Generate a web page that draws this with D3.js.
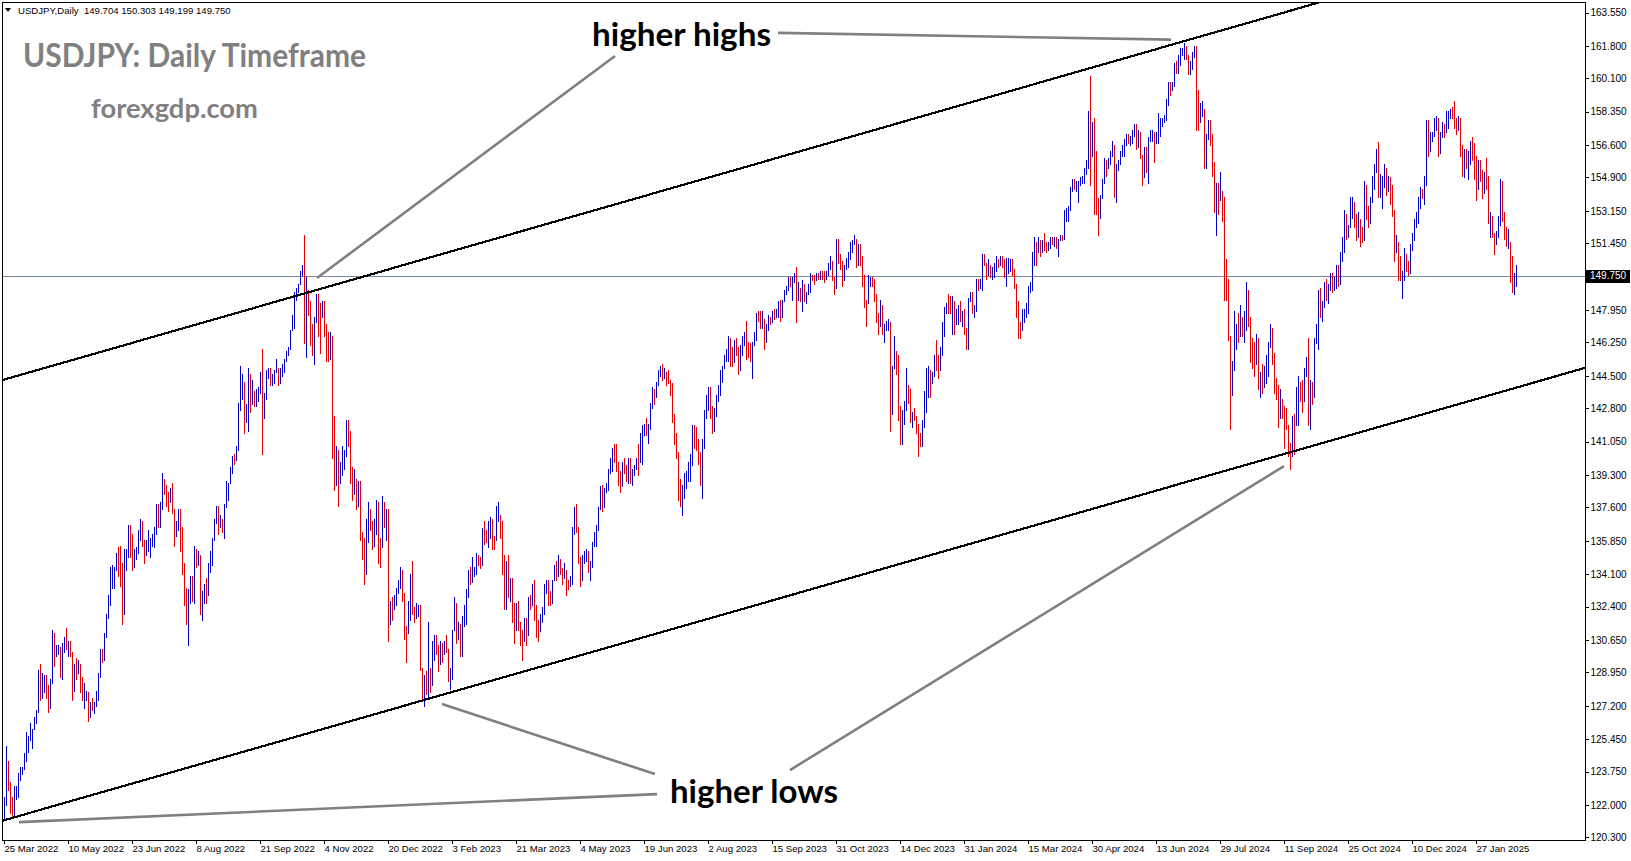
<!DOCTYPE html>
<html><head><meta charset="utf-8">
<script src="https://cdn.jsdelivr.net/npm/d3@7"></script>
<style>
body{margin:0;background:#fff;}
svg{display:block;}
</style>
</head><body>
<svg id="chart" width="1631" height="861"></svg>
<script>
// ---------- DATA ----------
const symbolTitle = "USDJPY,Daily  149.704 150.303 149.199 149.750";
const firstOpen = 121.8;
const highs = [
122.4,125.1,124.3,123.2,122.4,123.0,123.0,123.7,124.0,124.0,
124.7,125.8,125.6,126.3,126.0,126.6,127.0,129.1,129.4,128.9,
128.8,128.8,128.3,128.6,131.2,131.0,130.4,130.4,130.3,130.5,
130.8,131.3,130.6,130.6,130.0,129.4,129.7,129.6,129.4,128.7,
128.4,128.0,127.9,127.4,127.6,127.4,128.0,128.9,130.2,130.2,
131.0,132.0,133.0,134.5,134.6,134.5,135.2,135.5,135.6,134.7,
135.4,135.4,136.7,136.7,136.2,135.4,135.5,136.4,137.0,136.9,
135.9,135.9,136.4,136.0,136.2,136.6,137.8,137.8,137.9,139.4,
139.1,138.8,138.4,138.6,138.9,137.5,136.9,137.5,137.5,136.6,
134.7,133.4,133.3,134.0,134.0,135.6,135.4,135.3,135.1,133.2,
133.6,133.9,134.7,135.3,136.0,137.0,137.7,137.7,137.2,137.0,
137.8,139.0,138.9,139.7,140.3,140.4,140.8,143.1,145.0,144.6,
144.2,143.0,144.9,144.6,144.3,143.7,143.8,143.9,144.7,145.9,
143.6,144.8,144.9,144.9,144.6,144.8,145.4,144.9,144.9,145.1,
145.4,145.8,146.0,146.9,147.7,148.9,149.1,149.3,150.0,150.3,
151.9,149.7,149.0,148.4,147.2,147.6,148.8,148.8,148.3,148.4,
148.4,147.2,146.8,146.8,146.6,142.4,140.8,140.6,140.0,140.8,
140.6,142.2,142.2,141.6,139.7,139.6,139.1,139.0,139.0,136.3,
136.0,137.0,137.9,137.5,136.9,137.0,138.0,137.9,136.0,138.2,
137.9,137.5,137.5,132.7,132.9,133.0,133.4,133.8,134.5,134.3,
133.1,131.4,132.7,134.1,134.8,132.4,132.6,132.5,132.5,129.2,
128.8,129.0,131.6,129.2,130.6,130.9,130.9,130.4,130.6,130.5,
130.6,130.9,130.2,129.2,131.2,132.9,132.6,131.6,131.5,131.9,
132.5,133.3,134.3,134.5,135.0,134.5,135.2,135.1,135.0,136.5,
136.9,136.4,136.9,137.1,137.0,136.1,137.7,137.9,137.2,136.9,
135.1,134.8,135.1,133.9,133.9,132.6,132.6,132.7,131.6,131.2,
131.8,131.8,132.9,133.0,133.6,133.8,132.5,131.7,132.0,132.4,
133.6,133.8,133.8,133.2,133.8,134.6,134.8,135.1,134.9,134.4,
134.7,134.3,133.8,134.0,136.6,137.6,137.8,136.6,135.0,135.1,
135.3,135.4,135.3,134.8,135.8,136.3,136.7,137.6,138.7,138.8,
138.6,138.9,139.6,140.2,140.7,140.9,140.9,140.0,139.5,140.0,
140.2,139.8,140.2,140.2,139.6,139.8,140.2,140.9,141.5,141.9,
142.0,142.3,142.0,143.1,143.9,143.8,144.2,144.8,145.0,145.1,
144.9,144.7,144.8,144.3,144.1,142.5,141.5,140.5,139.1,138.8,
139.4,139.5,140.0,140.4,141.9,141.9,141.8,141.2,140.5,141.2,
142.7,143.5,143.9,143.9,142.9,142.8,143.5,144.0,144.8,145.0,
145.6,145.9,146.6,146.5,146.0,146.4,146.5,146.0,146.1,146.6,
146.8,147.4,146.3,146.2,146.3,146.8,147.8,147.9,147.9,147.9,
147.5,147.2,147.7,147.6,147.9,148.0,148.0,148.4,148.5,148.5,
149.0,149.2,149.7,149.7,149.7,149.9,150.2,149.4,149.1,149.5,
149.3,148.9,149.3,149.9,149.8,149.8,149.9,149.9,150.0,150.0,
150.0,150.0,150.4,150.8,150.5,149.7,151.7,151.7,150.9,150.5,
150.3,150.7,151.0,151.5,151.6,151.9,151.7,151.4,151.4,150.8,
149.8,148.5,149.8,149.7,149.7,149.6,148.8,147.8,148.5,148.2,
147.2,147.4,147.5,147.3,145.0,146.6,145.8,145.6,142.9,142.7,
143.2,144.9,144.0,143.8,142.6,142.8,142.4,142.0,141.5,142.2,
143.7,144.9,145.0,144.8,144.7,145.6,146.4,145.6,146.0,147.3,
148.1,148.3,148.8,148.7,148.7,148.4,148.0,148.2,148.4,147.9,
148.0,147.0,148.6,148.9,148.9,148.2,149.6,149.6,149.6,150.9,
150.9,150.4,150.6,150.3,150.2,150.4,150.8,150.6,150.8,150.8,
150.6,150.7,150.7,150.6,150.6,150.1,149.3,148.4,147.3,148.0,
148.0,148.3,149.2,149.4,151.0,151.8,151.5,151.8,151.6,151.6,
152.0,151.5,151.5,151.8,151.8,151.8,151.8,151.7,151.9,151.9,
153.2,153.3,153.4,154.4,154.8,154.8,154.7,154.7,154.9,155.0,
155.4,155.8,158.4,160.2,157.8,158.0,156.3,153.8,154.0,154.8,
155.9,155.8,155.9,156.3,156.8,156.6,155.6,155.8,156.3,156.6,
156.9,157.2,157.2,157.1,157.4,157.7,157.7,157.4,157.3,156.1,
156.5,156.5,157.0,157.4,157.4,157.3,157.3,158.3,158.0,158.0,
158.2,159.0,159.9,159.9,159.9,160.9,161.0,161.3,161.7,161.7,
161.95,161.8,161.3,161.0,161.5,161.8,161.8,159.5,158.8,158.9,
158.5,157.2,157.9,157.9,157.2,155.7,154.6,154.6,155.2,154.2,
153.9,150.6,149.6,146.6,145.3,147.9,147.2,147.8,148.2,147.6,
147.9,149.4,149.0,147.6,146.5,146.3,146.7,146.5,144.7,145.1,
145.0,145.6,146.3,147.2,147.0,145.7,144.4,144.0,143.8,143.3,
142.9,142.8,141.9,141.0,142.4,142.5,143.9,144.5,144.2,144.3,
144.9,145.5,146.5,144.3,144.2,146.5,147.2,149.0,149.1,148.4,
149.4,149.6,149.3,149.9,149.9,149.7,150.3,150.3,151.0,151.8,
153.2,153.0,152.4,153.9,153.9,153.6,153.0,153.1,152.7,152.3,
154.7,154.5,153.4,153.9,155.0,155.6,156.4,156.75,155.1,155.0,
155.6,155.4,155.0,154.9,154.5,153.2,151.9,151.5,150.8,150.0,
151.2,150.9,150.5,151.4,152.0,152.7,153.1,153.9,154.4,154.3,
155.0,157.9,157.9,157.3,157.3,158.0,158.1,158.0,157.3,157.8,
157.7,158.4,158.4,158.5,158.6,158.9,158.0,158.1,158.0,156.6,
156.4,156.4,156.3,156.8,157.0,156.7,156.0,155.8,155.8,155.3,
155.2,155.9,155.0,153.1,152.9,152.0,152.1,152.9,154.8,154.7,
153.1,152.3,152.2,151.5,150.8,149.9,150.303
];
const lows = [
121.3,122.0,122.8,121.6,121.3,121.5,122.3,122.4,123.3,123.6,
123.9,124.3,124.8,125.4,125.0,126.0,126.3,126.9,127.5,127.6,
127.9,127.6,126.9,127.1,128.4,129.3,129.8,129.9,128.7,128.6,
130.0,130.2,129.8,129.8,127.5,128.0,128.6,128.9,127.9,127.5,
127.1,127.5,126.4,126.6,127.0,126.8,127.2,127.5,128.7,129.5,
129.6,130.8,131.8,132.5,133.4,133.4,134.3,134.0,133.5,131.5,
132.0,134.3,135.0,135.0,134.3,134.5,134.9,135.2,135.9,135.6,
134.7,135.1,135.3,135.0,135.6,135.5,136.2,136.6,136.6,137.5,
138.3,137.7,137.4,137.9,137.3,135.6,136.1,136.4,135.3,134.1,
132.5,131.5,130.4,132.6,132.7,132.6,134.5,134.6,132.0,131.7,
132.6,132.6,133.0,134.2,134.6,135.9,136.8,136.2,136.6,136.3,
136.0,137.6,138.0,138.9,139.4,139.9,140.1,140.6,142.7,143.3,
141.5,142.1,141.6,142.6,143.0,142.9,142.9,143.2,143.6,140.4,
142.3,143.3,144.4,144.0,144.0,144.1,144.7,144.0,144.1,144.5,
144.7,145.3,145.6,145.9,146.9,147.0,148.5,148.9,149.3,149.8,
146.2,145.5,147.7,146.1,145.6,145.1,147.3,146.6,145.7,147.6,
146.6,145.3,145.3,145.4,140.2,138.5,138.8,137.7,138.9,139.3,
139.6,140.3,140.8,138.9,138.0,138.3,137.5,137.7,135.9,134.9,
133.6,134.1,135.8,136.4,135.4,135.6,136.2,134.7,134.5,135.5,
136.6,135.9,130.6,131.5,131.7,132.3,132.5,133.1,133.4,132.7,
130.7,129.5,131.0,131.7,132.0,131.6,131.8,131.9,129.1,127.5,
127.2,127.8,127.6,127.9,128.3,129.6,129.9,129.0,129.4,129.5,
129.9,130.0,128.5,128.1,128.6,131.2,130.5,130.7,129.8,129.8,
131.4,131.5,132.9,133.6,133.7,134.0,134.1,134.6,134.4,134.6,
135.7,135.8,135.5,136.0,135.4,135.4,135.9,136.9,136.0,134.1,
132.3,132.3,132.9,132.7,131.6,130.5,131.2,131.2,130.4,129.6,
130.6,130.4,130.9,132.3,132.5,131.7,130.8,130.6,131.1,131.6,
132.0,133.1,132.5,132.5,132.6,133.8,133.8,134.0,134.1,133.6,
133.9,133.0,133.3,133.5,133.6,136.2,136.3,134.7,133.5,133.8,
134.7,134.8,134.2,133.8,134.5,135.6,135.6,136.4,137.5,137.4,
137.6,138.4,138.5,139.4,139.5,140.0,139.5,138.8,138.4,138.7,
139.4,139.0,138.9,138.9,138.8,139.3,139.6,139.3,140.0,139.9,
141.4,141.4,141.0,141.7,142.8,143.0,143.4,144.0,144.5,144.3,
144.4,144.0,144.1,143.5,142.1,140.9,140.2,138.0,137.7,137.2,
138.1,138.6,139.0,139.0,139.8,140.7,140.6,139.9,138.8,138.1,
140.7,142.3,142.7,142.3,141.5,141.6,142.4,143.2,143.5,144.2,
144.9,145.3,145.3,145.0,145.0,145.2,145.6,144.6,144.8,145.6,
146.1,145.4,145.5,145.3,144.4,146.1,146.4,147.4,147.0,147.0,
145.9,146.3,146.9,147.2,147.3,147.5,147.6,147.6,147.4,147.6,
148.4,148.8,149.0,149.2,148.5,149.4,147.3,148.5,148.4,147.9,
148.4,148.3,148.8,148.9,149.5,149.3,149.5,149.6,149.6,149.6,
149.4,149.6,149.8,150.1,149.5,148.8,149.1,150.4,150.1,149.2,
149.5,150.1,150.2,150.6,151.0,151.4,150.2,150.3,150.3,149.2,
148.1,147.1,148.3,149.2,149.2,148.4,147.3,146.7,147.1,146.7,
146.3,146.9,146.9,141.6,142.5,144.9,144.6,142.2,140.9,140.9,
142.0,142.7,143.1,142.1,141.8,142.2,141.5,140.3,140.8,140.8,
141.8,142.6,143.4,143.4,144.1,144.5,144.8,144.4,144.8,145.6,
146.6,147.8,147.8,147.8,146.7,146.7,147.2,147.2,147.4,147.1,
146.7,145.9,145.9,148.4,147.8,147.6,147.9,149.0,149.1,149.0,
150.3,149.6,149.8,149.7,149.6,149.7,150.0,150.2,150.3,150.2,
149.7,149.2,149.9,150.0,149.8,149.1,147.6,146.5,146.5,146.9,
147.3,147.6,147.8,148.9,149.0,150.3,150.3,151.0,150.8,151.0,
151.1,151.0,151.1,151.2,151.4,151.3,151.2,150.8,151.6,151.6,
151.7,152.6,152.6,153.2,154.2,154.3,154.2,153.6,154.5,154.6,
154.6,155.1,155.4,154.5,156.0,153.0,153.0,151.9,152.8,153.8,
154.6,155.0,155.4,155.6,156.0,153.9,153.6,155.3,155.6,156.0,
156.0,156.6,156.7,156.6,156.7,157.1,156.4,156.5,155.9,154.5,
154.9,155.2,154.6,156.8,156.8,155.7,156.7,156.7,157.1,157.6,
157.8,157.9,158.7,159.2,159.5,159.7,160.4,160.4,160.8,161.3,
161.1,161.1,160.3,160.3,160.6,161.2,157.4,157.4,157.8,158.1,
155.4,155.4,156.9,156.6,155.0,153.1,151.9,153.0,153.7,152.6,
148.5,148.5,146.4,141.7,143.5,144.8,145.9,146.3,146.6,146.6,
146.3,146.9,147.1,145.2,144.9,144.5,145.1,143.8,143.4,143.6,
143.9,144.1,144.5,146.0,145.1,143.6,143.3,141.8,142.3,142.3,
140.7,141.7,140.3,139.6,140.3,140.4,141.9,141.9,143.2,142.6,
143.2,144.5,141.9,141.7,143.0,143.4,146.2,145.9,147.6,147.4,
148.1,148.5,148.3,149.0,148.9,149.0,149.1,149.2,149.3,150.5,
151.0,151.7,151.8,152.3,152.8,152.3,151.6,151.8,151.3,151.5,
151.6,152.7,152.3,152.5,153.6,154.3,155.2,153.9,153.9,153.3,
154.4,154.0,154.2,153.5,152.9,150.5,151.0,149.5,149.5,148.6,
149.5,150.0,149.8,149.9,151.1,151.6,152.3,152.5,153.3,153.8,
153.5,154.5,156.0,156.3,156.8,157.1,157.4,156.0,156.2,157.0,
157.0,157.3,157.5,158.0,158.0,157.5,157.2,157.4,156.0,155.0,
154.9,155.4,154.8,155.6,155.8,154.8,153.7,154.3,154.7,153.8,
154.1,154.3,152.5,151.8,151.8,150.9,151.4,151.8,152.4,152.6,
151.7,151.3,151.2,149.4,148.9,148.8,149.199
];
const closes = [
122.0,123.8,122.8,121.8,121.7,122.5,122.8,123.6,123.8,124.0,
124.3,125.4,125.4,125.5,125.9,126.4,126.9,128.9,127.9,128.4,
128.5,128.1,127.2,128.4,130.9,129.8,130.1,130.2,129.1,130.2,
130.6,130.3,130.5,129.9,128.3,129.3,129.2,129.4,128.2,127.8,
127.9,127.9,126.9,127.3,127.1,127.1,127.6,128.7,130.0,129.9,
130.9,131.9,132.6,134.2,134.3,134.4,134.5,134.4,134.2,132.2,
135.0,135.1,136.6,136.2,134.9,135.2,135.4,136.1,136.6,135.7,
135.2,135.7,135.8,135.9,136.0,136.1,137.4,136.9,137.5,138.9,
138.6,138.2,138.0,138.3,137.4,136.1,136.7,137.0,136.6,134.3,
133.3,131.6,133.1,133.9,132.9,135.0,134.9,135.1,132.9,133.0,
133.4,133.3,134.2,135.1,135.9,136.9,137.5,136.8,137.0,136.5,
137.6,138.7,138.8,139.6,140.2,140.1,140.6,142.8,144.0,144.1,
142.5,142.8,144.6,143.2,143.6,143.0,143.2,143.7,144.1,142.3,
143.3,144.7,144.8,144.2,144.4,144.7,144.8,144.1,144.6,145.0,
145.3,145.6,145.9,146.8,147.2,148.7,149.0,149.2,149.9,150.1,
147.7,148.9,148.1,146.4,146.3,147.5,148.7,148.2,147.9,148.2,
146.7,146.6,145.6,146.4,141.0,138.8,140.0,139.3,139.5,140.2,
140.4,142.0,141.2,139.5,138.6,139.2,138.0,138.1,136.1,135.0,
134.3,136.7,137.0,136.7,136.1,136.6,137.7,135.6,135.5,137.7,
136.7,136.9,131.8,132.4,132.3,132.8,133.3,133.5,134.4,133.0,
131.1,131.0,132.5,133.4,132.1,131.9,132.2,132.4,129.2,127.9,
128.5,128.2,128.9,128.4,129.6,130.7,130.2,129.2,130.2,129.9,
130.4,130.1,128.6,128.7,131.1,132.6,131.1,131.4,130.7,131.4,
132.4,133.2,134.1,134.0,134.2,134.3,134.9,134.8,134.7,136.4,
136.2,136.1,136.2,136.8,135.9,135.8,137.2,137.3,136.1,135.0,
133.2,134.3,133.4,133.8,131.8,131.3,132.5,131.5,130.9,130.7,
131.6,130.9,132.8,132.7,132.8,132.4,131.5,131.3,131.8,132.2,
133.5,133.6,133.0,132.6,133.7,134.5,134.1,134.7,134.2,134.1,
134.3,133.7,133.6,133.9,136.3,137.5,136.6,134.9,134.2,134.8,
135.1,135.2,134.4,134.6,135.7,136.1,136.4,137.5,138.6,137.9,
138.5,138.6,139.5,139.9,140.6,140.4,139.8,139.3,138.8,139.9,
139.6,139.2,140.1,139.0,139.4,139.6,140.1,140.0,140.3,141.8,
141.9,141.5,141.9,143.0,143.7,143.5,144.0,144.5,144.8,144.4,
144.7,144.6,144.2,144.1,142.2,141.3,140.4,138.5,138.1,138.7,
139.0,139.2,139.6,140.1,141.7,141.5,140.9,140.3,139.4,141.1,
142.3,143.3,143.4,142.6,141.8,142.5,143.4,143.8,144.7,144.9,
145.5,145.6,146.4,145.8,145.4,146.2,145.9,144.8,146.0,146.4,
146.5,145.9,145.6,145.5,146.1,146.5,147.7,147.6,147.3,147.8,
146.6,147.1,147.5,147.4,147.8,147.6,147.9,148.3,147.6,148.4,
148.9,149.1,149.6,149.3,149.4,149.8,149.0,149.1,148.5,149.3,
148.5,148.7,149.1,149.8,149.6,149.5,149.8,149.7,149.9,149.8,
149.7,149.9,150.2,150.4,149.6,149.1,151.6,150.9,150.4,149.4,
150.1,150.4,150.9,151.3,151.5,151.7,150.4,151.3,150.7,149.6,
148.4,148.3,149.5,149.6,149.4,148.6,147.4,147.2,148.2,146.8,
147.1,147.2,147.3,144.1,144.9,145.6,145.4,142.9,141.9,142.2,
142.8,143.8,143.5,142.3,142.4,142.3,141.8,141.4,141.0,142.0,
143.3,144.6,144.7,144.2,144.5,145.5,145.3,144.9,145.8,147.2,
148.0,148.2,148.1,148.0,148.3,147.5,147.7,148.1,147.5,147.6,
146.9,146.4,148.4,148.7,147.9,148.1,149.3,149.2,149.4,150.7,
150.6,149.8,150.2,150.0,150.1,150.3,150.5,150.4,150.7,150.5,
149.9,150.0,150.1,150.5,150.0,149.3,148.1,147.1,146.9,147.7,
147.8,148.2,149.0,149.1,150.8,151.3,151.1,151.4,151.3,151.5,
151.3,151.2,151.4,151.6,151.5,151.6,151.3,151.6,151.8,151.7,
153.1,153.2,153.3,154.2,154.7,154.4,154.5,154.6,154.8,154.9,
155.3,155.6,158.3,156.3,157.6,155.6,153.4,152.9,153.9,154.7,
155.6,155.5,155.8,156.2,156.4,154.9,155.4,155.7,156.2,156.3,
156.8,157.0,156.9,156.9,157.2,157.6,156.8,157.3,156.1,154.9,
156.1,155.6,156.8,157.0,157.2,156.7,157.0,157.4,157.7,157.9,
158.1,158.9,159.8,159.7,159.8,160.8,160.7,160.9,161.5,161.6,
161.7,161.3,160.8,160.9,161.4,161.6,158.9,157.9,158.1,158.4,
156.2,157.1,157.4,157.0,155.6,153.9,154.0,153.8,154.0,152.8,
150.0,149.4,146.6,144.2,144.3,146.8,147.1,146.6,147.2,146.8,
147.3,149.3,147.6,146.0,145.3,145.2,146.3,144.4,144.5,143.9,
144.6,144.9,146.2,146.9,145.5,143.7,143.4,142.3,143.1,142.5,
142.4,141.8,140.8,140.6,142.3,142.2,142.6,143.9,143.6,143.2,
144.8,144.9,142.2,143.6,143.5,146.4,146.9,148.7,148.2,148.3,
149.3,148.6,149.1,149.8,149.2,149.3,150.0,149.5,150.9,151.1,
152.7,151.8,152.3,153.3,153.4,152.9,152.0,152.9,152.3,151.6,
154.6,152.9,152.6,153.7,154.6,155.4,156.3,154.3,154.6,154.7,
155.4,154.5,154.7,154.2,153.1,151.1,151.5,149.8,149.6,149.7,
150.6,150.1,150.0,151.2,151.9,152.5,152.6,153.6,154.1,153.9,
154.7,157.4,156.4,156.9,157.1,157.8,157.9,156.8,157.2,157.5,
157.3,157.6,158.0,158.3,158.1,157.7,157.5,158.0,156.5,155.2,
156.3,155.6,155.7,156.5,156.0,155.9,154.5,155.5,155.2,154.2,
155.1,154.7,152.6,152.7,151.9,151.4,152.0,152.4,154.4,153.0,
152.1,151.5,151.6,149.7,149.2,149.7,149.750
];
const lastPrice = 149.750;
const priceTicks = [163.55,161.80,160.10,158.35,156.60,154.90,153.15,151.45,147.95,146.25,144.50,142.80,141.05,139.30,137.60,135.85,134.10,132.40,130.65,128.95,127.20,125.45,123.75,122.00,120.30];
const dateTickBars = [0,32,64,96,128,160,192,224,256,288,320,352,384,416,448,480,512,544,576,608,640,672,704,736];
const dateTickLabels = ["25 Mar 2022","10 May 2022","23 Jun 2022","8 Aug 2022","21 Sep 2022","4 Nov 2022","20 Dec 2022","3 Feb 2023","21 Mar 2023","4 May 2023","19 Jun 2023","2 Aug 2023","15 Sep 2023","31 Oct 2023","14 Dec 2023","31 Jan 2024","15 Mar 2024","30 Apr 2024","13 Jun 2024","29 Jul 2024","11 Sep 2024","25 Oct 2024","10 Dec 2024","27 Jan 2025"];
// channel lines: [bar, price] anchors
const upperChannel = [[0,144.3],[650,163.85]];
const lowerChannel = [[0,121.2],[790,144.9]];
// annotation connectors: [[bar, price],[bar, price]]
const connectors = [
  [[387,162.48],[583.5,162.13]],
  [[305.5,161.27],[156.5,149.63]],
  [[325.5,123.62],[219,127.29]],
  [[326.5,122.57],[7.5,121.10]],
  [[393,123.83],[640,139.77]]
];
const annoLabels = [
  {text:"higher highs", bar:294, price:161.80, width:179},
  {text:"higher lows", bar:333, price:122.10, width:168}
];

// ---------- DRAW ----------
const svg = d3.select("#chart");
const plot = {left:2, top:2, right:1585, bottom:840};
const n = Math.min(highs.length, lows.length, closes.length);

const x = d3.scaleLinear().domain([0, 756]).range([4, 1516]);
const y = d3.scaleLinear().domain([120.30, 163.55]).range([837.4, 12.5]);

svg.append("rect").attr("width",1631).attr("height",861).attr("fill","#fff");

svg.append("defs").append("clipPath").attr("id","clip")
  .append("rect").attr("x",plot.left).attr("y",plot.top)
  .attr("width",plot.right-plot.left).attr("height",plot.bottom-plot.top);

const g = svg.append("g").attr("clip-path","url(#clip)");

// current price line
g.append("line").attr("x1",plot.left).attr("x2",plot.right)
  .attr("y1",Math.round(y(lastPrice))+0.5).attr("y2",Math.round(y(lastPrice))+0.5)
  .attr("stroke","#778899").attr("stroke-width",1);

// bars
const idx = d3.range(n);
g.append("g").selectAll("line").data(idx).join("line")
  .attr("x1",i=>Math.round(x(i))+0.5).attr("x2",i=>Math.round(x(i))+0.5)
  .attr("y1",i=>Math.round(y(highs[i]))).attr("y2",i=>Math.round(y(lows[i]))+1)
  .attr("stroke",i=>{const o = i===0?firstOpen:closes[i-1]; return closes[i]>=o?"#0000c4":"#e60000";})
  .attr("stroke-width",1).attr("shape-rendering","crispEdges");

// channel lines
function chan(a){
  const slope=(a[1][1]-a[0][1])/(a[1][0]-a[0][0]);
  const b0=-10, b1=820;
  return [[b0, a[0][1]+slope*(b0-a[0][0])],[b1, a[0][1]+slope*(b1-a[0][0])]];
}
[upperChannel, lowerChannel].forEach(c=>{
  const p=chan(c);
  g.append("line").attr("x1",x(p[0][0])).attr("y1",y(p[0][1]))
   .attr("x2",x(p[1][0])).attr("y2",y(p[1][1]))
   .attr("stroke","#000").attr("stroke-width",2.2).attr("shape-rendering","crispEdges");
});

// connectors
connectors.forEach(c=>{
  g.append("line").attr("x1",x(c[0][0])).attr("y1",y(c[0][1]))
   .attr("x2",x(c[1][0])).attr("y2",y(c[1][1]))
   .attr("stroke","#808080").attr("stroke-width",2.6);
});

// annotation text
annoLabels.forEach(a=>{
  g.append("text").attr("x",x(a.bar)).attr("y",y(a.price))
   .attr("font-family","Lato, 'Open Sans', sans-serif").attr("font-weight",700)
   .attr("font-size",33).attr("fill","#000")
   .attr("textLength",a.width).attr("lengthAdjust","spacingAndGlyphs")
   .text(a.text);
});

// watermark titles
svg.append("text").attr("x",23).attr("y",67)
  .attr("font-family","Lato, 'Open Sans', sans-serif").attr("font-weight",700)
  .attr("font-size",32).attr("fill","#808080")
  .attr("textLength",343).attr("lengthAdjust","spacingAndGlyphs")
  .text("USDJPY: Daily Timeframe");
svg.append("text").attr("x",91).attr("y",118)
  .attr("font-family","Lato, 'Open Sans', sans-serif").attr("font-weight",700)
  .attr("font-size",27).attr("fill","#808080")
  .attr("textLength",167).attr("lengthAdjust","spacingAndGlyphs")
  .text("forexgdp.com");

// symbol header
svg.append("path").attr("d","M5,8 L11,8 L8,12 Z").attr("fill","#000");
svg.append("text").attr("x",18).attr("y",14)
  .attr("font-family","'Liberation Sans', Arial, sans-serif").attr("font-size",9.6)
  .attr("fill","#000").attr("xml:space","preserve").style("white-space","pre")
  .text(symbolTitle);

// frame
svg.append("rect").attr("x",plot.left+0.5).attr("y",plot.top+0.5)
  .attr("width",plot.right-plot.left).attr("height",plot.bottom-plot.top)
  .attr("fill","none").attr("stroke","#000").attr("stroke-width",1);

// right price axis
const yAxis = d3.axisRight(y).tickValues(priceTicks).tickSize(3).tickSizeOuter(0)
  .tickFormat(d3.format(".3f"));
const ya = svg.append("g").attr("transform",`translate(${plot.right+0.5},0)`).call(yAxis);
ya.select(".domain").remove();
ya.selectAll("line").attr("stroke","#000").attr("shape-rendering","crispEdges");
ya.selectAll("text").attr("x",5).attr("font-family","'Liberation Sans', Arial, sans-serif")
  .attr("font-size",10).attr("fill","#000");

// bottom date axis
const xAxis = d3.axisBottom(x).tickValues(dateTickBars).tickSize(3).tickSizeOuter(0)
  .tickFormat((d,i)=>dateTickLabels[i]);
const xa = svg.append("g").attr("transform",`translate(0,${plot.bottom+0.5})`).call(xAxis);
xa.select(".domain").remove();
xa.selectAll("line").attr("stroke","#000").attr("shape-rendering","crispEdges");
xa.selectAll("text").attr("text-anchor","start").attr("x",0).attr("y",5)
  .attr("font-family","'Liberation Sans', Arial, sans-serif").attr("font-size",9.6).attr("fill","#000");

// current price box
const py = y(lastPrice);
svg.append("rect").attr("x",plot.right+1).attr("y",Math.round(py)-6).attr("width",44).attr("height",13).attr("fill","#000");
svg.append("text").attr("x",plot.right+5).attr("y",py).attr("dy","0.35em")
  .attr("font-family","'Liberation Sans', Arial, sans-serif").attr("font-size",10).attr("fill","#fff")
  .text(d3.format(".3f")(lastPrice));
</script>
</body></html>
